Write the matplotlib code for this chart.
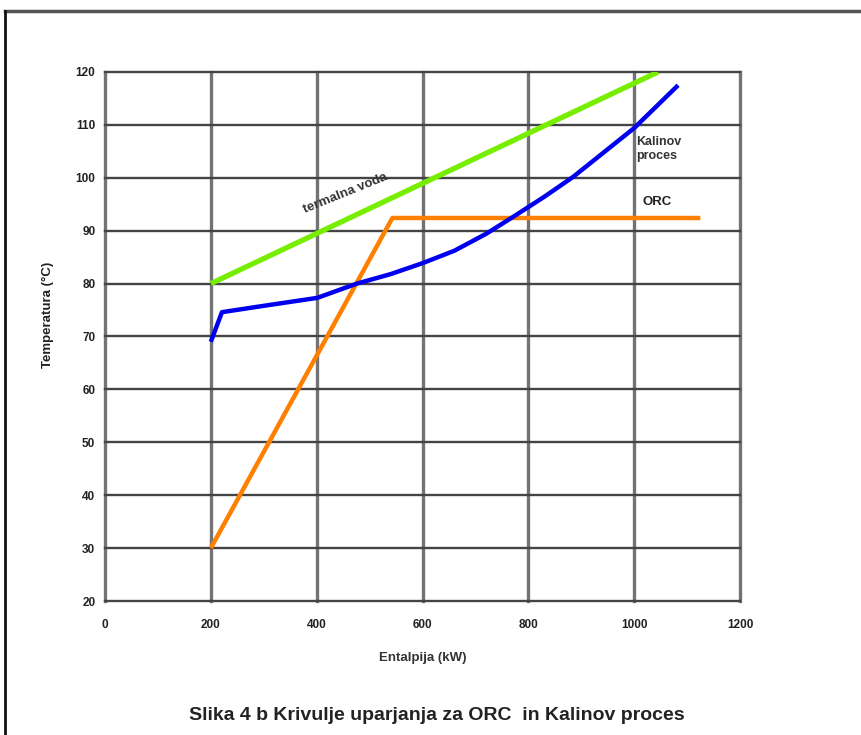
import matplotlib
matplotlib.use("Agg")
import matplotlib.pyplot as plt
from matplotlib.lines import Line2D

plt.rcParams['font.family'] = ['Liberation Sans', 'DejaVu Sans']

# Data
x_ticks = [0, 200, 400, 600, 800, 1000, 1200]
y_ticks = [20, 30, 40, 50, 60, 70, 80, 90, 100, 110, 120]

source_x = [200, 1045]
source_y = [80, 120]

orc_x = [200, 543, 1125]
orc_y = [30, 92.4, 92.4]

kalina_x = [200, 221, 300, 401, 476, 540, 601, 660, 720, 771, 830, 885, 940, 1000, 1083]
kalina_y = [69.0, 74.6, 75.8, 77.3, 80.0, 81.8, 83.9, 86.2, 89.4, 92.6, 96.4, 100.2, 104.6, 109.4, 117.5]

fig = plt.figure(figsize=(8.61, 7.35), dpi=100)
ax = fig.add_axes([105/861, 1-601/735, 635/861, 529/735])

ax.set_xlim(0, 1200)
ax.set_ylim(20, 120)
ax.set_xticks(x_ticks)
ax.set_yticks(y_ticks)
ax.set_xticklabels([str(v) for v in x_ticks], fontsize=8.5, fontweight='bold', color='#222222')
ax.set_yticklabels([str(v) for v in y_ticks], fontsize=8.5, fontweight='bold', color='#222222')
ax.tick_params(axis='y', length=0, pad=7)
ax.tick_params(axis='x', length=0, pad=13)

for v in x_ticks:
    ax.axvline(v, color='#737373', lw=2.4, zorder=1, clip_on=False)
for v in y_ticks:
    ax.axhline(v, color='#444444', lw=1.7, zorder=1, clip_on=False)
for s in ax.spines.values():
    s.set_visible(False)

ax.plot(source_x, source_y, color='#77ee00', lw=3.8, zorder=3, solid_capstyle='butt')
ax.plot(orc_x, orc_y, color='#ff8000', lw=3.2, zorder=3, solid_capstyle='butt')
ax.plot(kalina_x, kalina_y, color='#0000ee', lw=3.2, zorder=4, solid_capstyle='butt')

ax.text(455, 97.0, 'termalna voda', rotation=22, fontsize=9.5, fontweight='bold',
        color='#333333', ha='center', va='center')
ax.text(1003, 105.5, 'Kalinov\nproces', fontsize=9, fontweight='bold', color='#333333',
        ha='left', va='center', linespacing=1.25)
ax.text(1015, 95.5, 'ORC', fontsize=9.5, fontweight='bold', color='#222222',
        ha='left', va='center')

fig.text(48/861, 1-315/735, 'Temperatura (°C)', rotation=90, fontsize=9.5, fontweight='bold',
         color='#222222', ha='center', va='center')
fig.text(423/861, 1-658/735, 'Entalpija (kW)', fontsize=9.5, fontweight='bold',
         color='#333333', ha='center', va='center')

fig.text(437/861, 1-715/735, 'Slika 4 b Krivulje uparjanja za ORC  in Kalinov proces',
         fontsize=14, fontweight='bold', color='#222222', ha='center', va='center')

# figure frame
fig.add_artist(Line2D([5/861, 1.0], [1-11/735, 1-11/735], transform=fig.transFigure,
                      color='#555555', lw=2.5))
fig.add_artist(Line2D([5/861, 5/861], [1-11/735, 0.0], transform=fig.transFigure,
                      color='#111111', lw=2.0))

fig.savefig('out.png', dpi=100)
